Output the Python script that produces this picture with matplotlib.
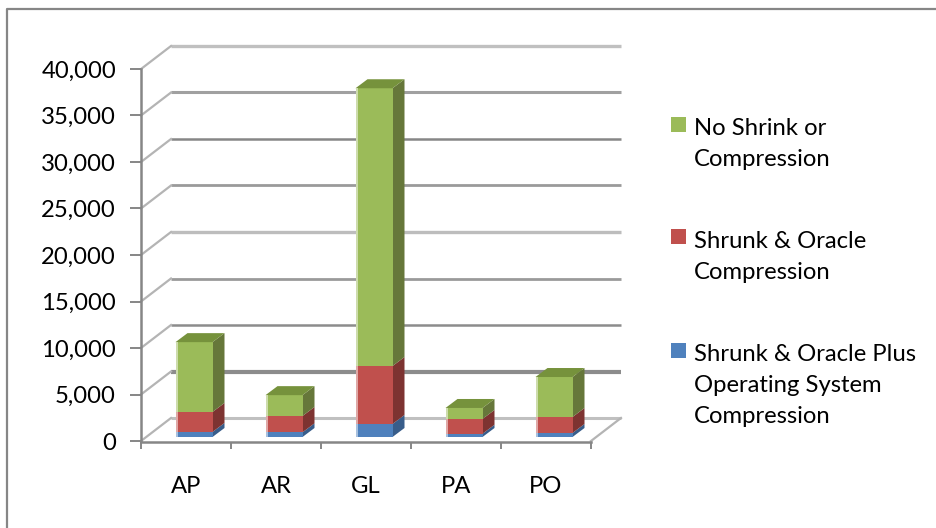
import matplotlib
matplotlib.use("Agg")
import matplotlib.pyplot as plt
from matplotlib.patches import Rectangle
from matplotlib.lines import Line2D

plt.rcParams['font.family'] = ['Lato', 'DejaVu Sans']

categories = ['AP', 'AR', 'GL', 'PA', 'PO']
os_compressed = [540, 500, 1400, 350, 430]
oracle_compressed = [2150, 1760, 6230, 1590, 1720]
no_compression = [7510, 2240, 29870, 1180, 4300]
y_ticks = [0, 5000, 10000, 15000, 20000, 25000, 30000, 35000, 40000]
legend_labels = ['No Shrink or\nCompression', 'Shrunk & Oracle\nCompression',
                 'Shrunk & Oracle Plus\nOperating System\nCompression']

W, H = 936, 528
FS = 17.2
fig = plt.figure(figsize=(W / 100, H / 100), dpi=100)
L, R, B0, T0 = 141, 591, 441, 69
ax = fig.add_axes([L / W, 1 - B0 / H, (R - L) / W, (B0 - T0) / H])
ax.set_xlim(0, 5)
ax.set_ylim(0, 40000)
ax.patch.set_alpha(0)

px_x = 5 / (R - L)
px_y = 40000 / (B0 - T0)
wall_dx, wall_dy = 30 * px_x, 23 * px_y
bar_dx, bar_dy = 8 * px_x, 4 * px_y
depth_dx, depth_dy = 12 * px_x, 9 * px_y
bar_w = 37 * px_x
strip_w = 2 * px_x

grid_col = ['#c0c0c0', '#8c8c8c', '#8c8c8c', '#9a9a9a', '#bdbdbd', '#9a9a9a', '#868686', '#a0a0a0', '#c0c0c0']
grid_lw = [2.2, 3.0, 1.8, 2.0, 2.4, 2.0, 1.8, 2.2, 2.4]
for t, c, lw in zip(y_ticks, grid_col, grid_lw):
    ax.plot([wall_dx, 5 + wall_dx], [t + wall_dy] * 2, color=c, lw=lw, clip_on=False, zorder=1, solid_capstyle='butt')
    ax.plot([0, wall_dx], [t, t + wall_dy], color='#b4b4b4', lw=1.6, clip_on=False, zorder=1)
ax.plot([5, 5 + wall_dx], [0, wall_dy], color='#b4b4b4', lw=1.6, clip_on=False, zorder=1)

colors = [
    ('#4f81bd', '#385d8a', '#4672a8', '#a7c0de'),
    ('#c0504d', '#7d3331', '#a04340', '#dfa8a6'),
    ('#9bbb59', '#66773a', '#76923c', '#cddcac'),
]
series = [os_compressed, oracle_compressed, no_compression]
for i in range(len(categories)):
    x0 = i + 0.5 - bar_w / 2 + bar_dx
    bottom = bar_dy
    for vals, (front, side, top, light) in zip(series, colors):
        v = vals[i]
        xr = x0 + bar_w
        ax.fill([xr, xr + depth_dx, xr + depth_dx, xr],
                [bottom, bottom + depth_dy, bottom + v + depth_dy, bottom + v],
                color=side, lw=0, clip_on=False, zorder=3)
        ax.bar(x0, v, bar_w, bottom=bottom, align='edge', color=front, lw=0, clip_on=False, zorder=4)
        ax.bar(x0, v, strip_w, bottom=bottom, align='edge', color=light, lw=0, clip_on=False, zorder=5)
        bottom += v
    ax.fill([x0, x0 + depth_dx, xr + depth_dx, xr],
            [bottom, bottom + depth_dy, bottom + depth_dy, bottom],
            color=colors[2][2], lw=0, clip_on=False, zorder=4)

for s in ['top', 'right']:
    ax.spines[s].set_visible(False)
for s in ['left', 'bottom']:
    ax.spines[s].set_color('#868686')
    ax.spines[s].set_linewidth(1.8)
ax.spines['bottom'].set_position(('outward', 1))
ax.set_yticks(y_ticks)
ax.set_yticklabels([f'{t:,}' for t in y_ticks])
ax.set_xticks(range(6))
ax.set_xticklabels([])
ax.set_xticks([i + 0.5 for i in range(5)], labels=categories, minor=True)
ax.tick_params(axis='x', which='major', length=5, width=1.4, color='#868686')
ax.tick_params(axis='x', which='minor', length=0, pad=24, labelsize=FS, labelcolor='black')
ax.tick_params(axis='y', length=8, width=1.4, color='#868686', pad=10, labelsize=FS, labelcolor='black')

swatch_y = [117, 229, 343]
text_y = [118, 231, 344]
for lab, sy, ty, col in zip(legend_labels, swatch_y, text_y, [colors[2][0], colors[1][0], colors[0][0]]):
    fig.add_artist(Rectangle((671 / W, 1 - (sy + 15) / H), 15 / W, 15 / H, transform=fig.transFigure, color=col, lw=0))
    fig.text(694 / W, 1 - ty / H, lab, fontsize=FS, va='top', ha='left', linespacing=1.6, color='black')

fig.add_artist(Line2D([6.5 / W, 6.5 / W, 1], [0, 1 - 9 / H, 1 - 9 / H], transform=fig.transFigure,
                      color='#868686', lw=1.6))

fig.savefig('out.png', dpi=100)
